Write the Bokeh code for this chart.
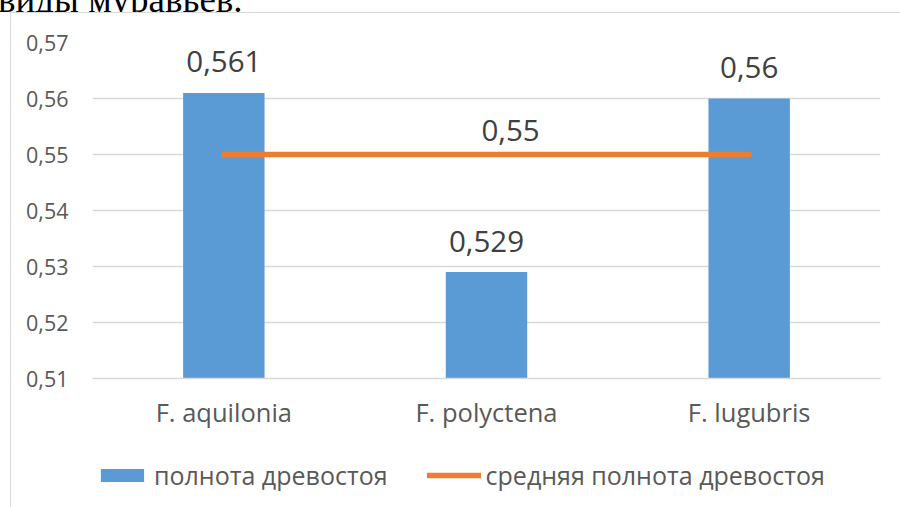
from bokeh.plotting import figure
from bokeh.layouts import column
from bokeh.models import (ColumnDataSource, FactorRange, Range1d, FixedTicker,
                          CustomJSTickFormatter, Legend, LegendItem, InlineStyleSheet, Div)
from bokeh.core.properties import value
from bokeh.embed import file_html
from bokeh.resources import INLINE

page_text = "виды муравьев."
categories = ["F. aquilonia", "F. polyctena", "F. lugubris"]
fullness = [0.561, 0.529, 0.56]
fullness_labels = ["0,561", "0,529", "0,56"]
mean_fullness = [0.55, 0.55, 0.55]
mean_label = ["0,55"]
y_ticks = [0.51, 0.52, 0.53, 0.54, 0.55, 0.56, 0.57]
bar_name = "полнота древостоя"
line_name = "средняя полнота древостоя"

FONT = "Open Sans"
TXT = "#595959"
GRID = "#d9d9d9"
BLUE = "#5B9BD5"
ORANGE = "#ED7D31"

border_css = InlineStyleSheet(css="""
:host::after {
  content: '';
  position: fixed;
  left: 10px; top: 12px; right: 0px; bottom: 0px;
  border-left: 1.5px solid #d9d9d9;
  border-top: 1.5px solid #d9d9d9;
  pointer-events: none;
}
""")

# ---- cropped line of page text above the chart ----
head = Div(text=f'<span style="position:absolute; left:-2px; top:-22px; '
                f'font-family:\'Liberation Serif\'; font-size:37px; line-height:normal; '
                f'font-weight:normal; color:#000; white-space:nowrap;">{page_text}</span>',
           width=900, height=12, margin=0,
           styles={"overflow": "hidden", "position": "relative"})

# ---- main chart ----
p = figure(x_range=FactorRange(*categories, range_padding=0),
           y_range=Range1d(0.51, 0.57),
           width=900, height=428, output_backend="svg", toolbar_location=None,
           min_border_left=92, min_border_right=20, min_border_top=30,
           min_border_bottom=62)
p.outline_line_color = None
p.background_fill_color = "white"
p.border_fill_color = "white"

bars_src = ColumnDataSource(dict(cat=categories, val=fullness, lab=fullness_labels))
bars = p.vbar(x="cat", top="val", bottom=0, width=0.31, source=bars_src,
              fill_color=BLUE, line_color=None)
line = p.line(x=categories, y=mean_fullness, line_color=ORANGE, line_width=5.5,
              line_cap="round")

p.text(x="cat", y="val", text="lab", source=bars_src, text_align="center",
       text_baseline="alphabetic", y_offset=-31, text_font=value(FONT),
       text_font_size="29.5px", text_color="#404040")
p.text(x=[categories[1]], y=[mean_fullness[1]], text=mean_label, text_align="center",
       text_baseline="alphabetic", x_offset=24, y_offset=-24, text_font=value(FONT),
       text_font_size="29.5px", text_color="#404040")

p.xgrid.grid_line_color = None
p.ygrid.grid_line_color = GRID
p.ygrid.grid_line_width = 1.3

p.yaxis.ticker = FixedTicker(ticks=y_ticks)
p.yaxis.formatter = CustomJSTickFormatter(code="return tick.toFixed(2).replace('.', ',');")
p.yaxis.axis_line_color = None
p.yaxis.major_tick_line_color = None
p.yaxis.minor_tick_line_color = None
p.yaxis.major_tick_out = 0
p.yaxis.major_tick_in = 0
p.yaxis.major_label_standoff = 24
p.yaxis.major_label_text_font = FONT
p.yaxis.major_label_text_font_size = "21.5px"
p.yaxis.major_label_text_color = TXT

p.xaxis.axis_line_color = GRID
p.xaxis.axis_line_width = 1.3
p.xaxis.major_tick_line_color = None
p.xaxis.minor_tick_line_color = None
p.xaxis.major_tick_out = 0
p.xaxis.major_tick_in = 0
p.xaxis.major_label_standoff = 16
p.xaxis.major_label_text_font = FONT
p.xaxis.major_label_text_font_size = "25.5px"
p.xaxis.major_label_text_color = TXT

# ---- legend strip (same series, drawn outside its visible range; only the keys show) ----
q = figure(x_range=p.x_range, y_range=Range1d(1, 2),
           width=900, height=67, output_backend="svg", toolbar_location=None,
           x_axis_type=None, y_axis_type=None,
           min_border_left=92, min_border_right=20, min_border_top=0, min_border_bottom=0)
q.outline_line_color = None
q.xgrid.grid_line_color = None
q.ygrid.grid_line_color = None
q.background_fill_color = "white"
q.border_fill_color = "white"
key_bar = q.vbar(x=categories, top=fullness, bottom=0, width=0.31,
                 fill_color=BLUE, line_color=None)
key_line = q.line(x=categories, y=mean_fullness, line_color=ORANGE, line_width=5.5,
                  line_cap="round")

legend = Legend(items=[LegendItem(label=bar_name, renderers=[key_bar]),
                       LegendItem(label=line_name, renderers=[key_line])],
                location=(3, 15), orientation="horizontal",
                glyph_width=54, glyph_height=16, label_standoff=5, spacing=39,
                margin=0, padding=0, border_line_alpha=0, background_fill_alpha=0,
                label_text_font=FONT, label_text_font_size="25px",
                label_text_color=TXT)
q.add_layout(legend, "center")

layout = column(head, p, q, spacing=0, stylesheets=[border_css])

open("out.html", "w").write(file_html(layout, INLINE))
